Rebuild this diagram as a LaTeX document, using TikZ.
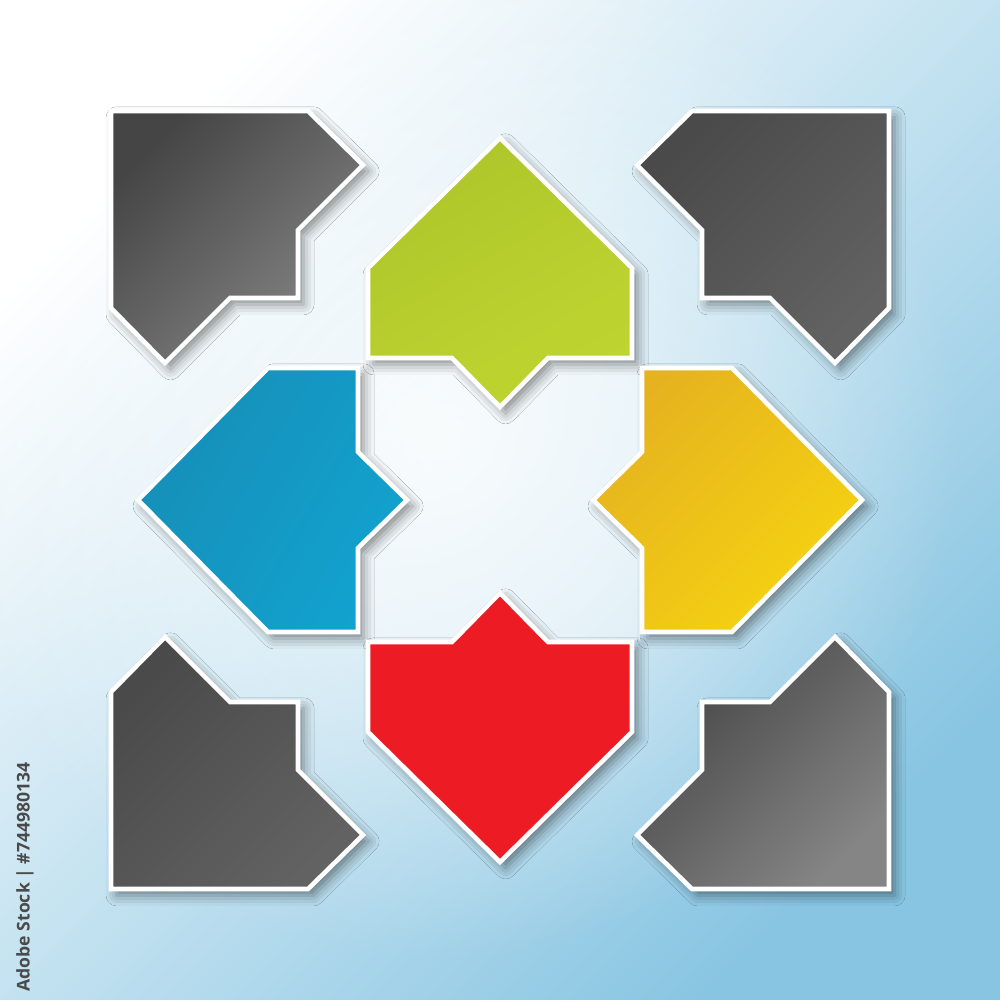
\documentclass[tikz,border=0pt]{standalone}
\usepackage{fontspec}
\usepackage{xcolor}
\usetikzlibrary{shadows.blur,fadings}
\newfontfamily\stockfont{Open Sans}
\definecolor{bgblue}{HTML}{88C5E2}
\definecolor{bgmid}{HTML}{CFEAF6}
\definecolor{graydark}{HTML}{454545}
\definecolor{graylight}{HTML}{858585}
\definecolor{grayflat}{HTML}{5C5C5C}
\definecolor{greentile}{HTML}{BED530}
\definecolor{greendark}{HTML}{AFC62B}
\definecolor{bluetile}{HTML}{12A2CF}
\definecolor{bluedark}{HTML}{168FB8}
\definecolor{yellowtile}{HTML}{F6D311}
\definecolor{yellowdark}{HTML}{E5B31F}
\definecolor{redtile}{HTML}{ED1C24}
\definecolor{stockgray}{HTML}{4A4A4A}
\tikzfading[name=glow, inner color=transparent!0, outer color=transparent!100]
\tikzstyle{tile} =
  [ draw=white
  , line width=1.3pt
  , line join=miter
  , blur shadow={shadow xshift=1.6pt, shadow yshift=-1.8pt, shadow blur radius=3pt, shadow opacity=45}
  ]
\tikzstyle{gray_tile} =
  [ tile
  , top color=graydark
  , bottom color=graylight
  , shading angle=45
  ]
\tikzstyle{gray_flat_tile} =
  [ tile
  , top color=graydark!80!grayflat
  , bottom color=grayflat!85!graylight
  , shading angle=45
  ]
\tikzstyle{green_tile} =
  [ tile
  , top color=greendark
  , bottom color=greentile
  , shading angle=30
  ]
\tikzstyle{blue_tile} =
  [ tile
  , top color=bluedark
  , bottom color=bluetile
  , shading angle=60
  ]
\tikzstyle{yellow_tile} =
  [ tile
  , top color=yellowdark
  , bottom color=yellowtile
  , shading angle=45
  ]
\tikzstyle{red_tile} =
  [ tile
  , fill=redtile
  ]
\begin{document}
\begin{tikzpicture}[x=0.01cm,y=0.01cm]
  \useasboundingbox (-500,-500) rectangle (500,500);

  % Background
  \shade[top color=white, middle color=bgmid, bottom color=bgblue, shading angle=45]
    (-500,-500) rectangle (500,500);
  \fill[white, opacity=0.75, path fading=glow] (-60,60) circle (520);
  \fill[white, opacity=0.45] (-140,-140) rectangle (140,140);

  % Corner tiles
  \draw[gray_tile]      (-389,389) -- (-192,389) -- (-137,335) -- (-202,270)
    -- (-202,202) -- (-270,202) -- (-335,137) -- (-389,192) -- cycle;
  \draw[gray_flat_tile] (389,389) -- (389,192) -- (335,137) -- (270,202)
    -- (202,202) -- (202,270) -- (137,335) -- (192,389) -- cycle;
  \draw[gray_flat_tile] (-389,-389) -- (-389,-192) -- (-335,-137) -- (-270,-202)
    -- (-202,-202) -- (-202,-270) -- (-137,-335) -- (-192,-389) -- cycle;
  \draw[gray_tile]      (389,-389) -- (192,-389) -- (137,-335) -- (202,-270)
    -- (202,-202) -- (270,-202) -- (335,-137) -- (389,-192) -- cycle;

  % Arrow tiles round the centre
  \draw[green_tile]  (-132,142) -- (-132,232) -- (0,362) -- (132,232)
    -- (132,142) -- (48,142) -- (0,93) -- (-48,142) -- cycle;
  \draw[blue_tile]   (-142,132) -- (-232,132) -- (-362,0) -- (-232,-132)
    -- (-142,-132) -- (-142,-48) -- (-93,0) -- (-142,48) -- cycle;
  \draw[yellow_tile] (142,132) -- (232,132) -- (362,0) -- (232,-132)
    -- (142,-132) -- (142,-48) -- (93,0) -- (142,48) -- cycle;
  \draw[red_tile]    (-132,-142) -- (-132,-232) -- (0,-362) -- (132,-232)
    -- (132,-142) -- (48,-142) -- (0,-93) -- (-48,-142) -- cycle;

  % Stock id along the left edge
  \node[rotate=90, text=stockgray, inner sep=0pt, font=\stockfont\bfseries\fontsize{5}{6}\selectfont]
    (stock_id) at (-475,-377) {Adobe Stock | \#744980134};
\end{tikzpicture}
\end{document}
